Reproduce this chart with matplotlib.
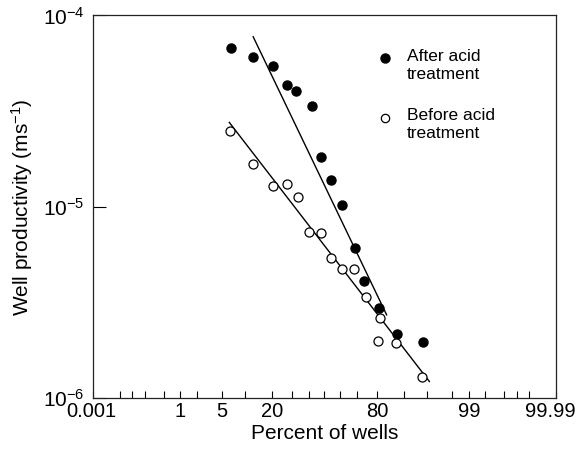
import numpy as np
import matplotlib
matplotlib.use("Agg")
import matplotlib.pyplot as plt
import matplotlib.transforms as mtransforms
from statistics import NormalDist

plt.rcParams['font.family'] = ['Liberation Sans', 'DejaVu Sans']
plt.rcParams['mathtext.default'] = 'regular'

# Data (percent of wells, productivity in m/s)
after_pct = [6.65, 12.4, 20.6, 27.2, 32.2, 41.8, 48.0, 54.2, 61.3, 68.8, 73.6, 80.8, 87.7, 94.3]
after_val = [6.78e-5, 6.05e-5, 5.47e-5, 4.32e-5, 4.05e-5, 3.38e-5, 1.81e-5, 1.38e-5, 1.02e-5,
             6.08e-6, 4.1e-6, 2.96e-6, 2.16e-6, 1.97e-6]
before_pct = [6.45, 12.4, 20.3, 27.2, 33.5, 40.2, 48.0, 54.2, 61.1, 68.05, 74.6, 81.2, 80.4, 87.6, 94.1]
before_val = [2.48e-5, 1.68e-5, 1.29e-5, 1.32e-5, 1.13e-5, 7.37e-6, 7.31e-6, 5.39e-6, 4.74e-6,
              4.74e-6, 3.37e-6, 2.62e-6, 1.99e-6, 1.93e-6, 1.28e-6]
after_fit_pct = [12.6, 84.1]
after_fit_val = [7.74e-5, 2.72e-6]
before_fit_pct = [6.31, 95.4]
before_fit_val = [2.76e-5, 1.22e-6]

major_ticks = [0.01, 1, 5, 20, 80, 99, 99.99]
major_labels = ['0.001', '1', '5', '20', '80', '99', '99.99']
minor_ticks = [0.05, 0.1, 0.2, 0.5, 2, 10, 30, 40, 50, 60, 70, 90, 95, 98, 99.5, 99.8, 99.9, 99.95]

_nd = NormalDist()
_inv = np.vectorize(lambda p: _nd.inv_cdf(min(max(p / 100.0, 1e-9), 1 - 1e-9)))
_cdf = np.vectorize(lambda z: _nd.cdf(z) * 100.0)

def fwd(p):
    return _inv(np.asarray(p, dtype=float))

def inv(z):
    return _cdf(np.asarray(z, dtype=float))

fig = plt.figure(figsize=(5.8, 4.55), dpi=100)
ax = fig.add_axes([0.1603, 0.1253, 0.7983, 0.8407])
ax.set_xscale('function', functions=(fwd, inv))
ax.set_yscale('log')
ax.set_xlim(0.01, 99.99)
ax.set_ylim(1e-6, 1e-4)

ax.plot(after_fit_pct, after_fit_val, color='black', lw=1.0)
ax.plot(before_fit_pct, before_fit_val, color='black', lw=1.0)
ax.plot(after_pct, after_val, 'o', color='black', ms=6.5, zorder=3)
ax.plot(before_pct, before_val, 'o', mfc='white', mec='black', mew=0.9, ms=6.5, zorder=3)

ax.set_xticks(major_ticks)
ax.set_xticklabels(major_labels)
ax.set_xticks(minor_ticks, minor=True)
ax.set_yticks([1e-6, 1e-5, 1e-4])
ax.set_yticklabels(['$10^{-6}$', '$10^{-5}$', '$10^{-4}$'])
ax.yaxis.set_minor_locator(matplotlib.ticker.NullLocator())

ax.tick_params(axis='x', which='both', direction='in', length=5, width=0.8, labelsize=14.5, pad=3)
ax.tick_params(axis='y', which='major', direction='in', length=9, width=0.8, labelsize=15, pad=6)
for s in ax.spines.values():
    s.set_linewidth(0.9)
    s.set_color('#222222')

# shift end labels slightly inward like the original
xlabels = ax.get_xticklabels()
xlabels[-1].set_transform(xlabels[-1].get_transform() +
                          mtransforms.ScaledTranslation(-4 / 72, 0, fig.dpi_scale_trans))
xlabels[0].set_transform(xlabels[0].get_transform() +
                         mtransforms.ScaledTranslation(-1.5 / 72, 0, fig.dpi_scale_trans))

ax.set_xlabel('Percent of wells', fontsize=15, labelpad=2)
ax.set_ylabel('Well productivity (ms$^{-1}$)', fontsize=15, labelpad=6)

# Legend (manual, as in original)
ax.plot([0.631], [0.890], 'o', color='black', ms=6.5, transform=ax.transAxes, clip_on=False)
ax.text(0.678, 0.913, 'After acid\ntreatment', transform=ax.transAxes, fontsize=12.5,
        va='top', ha='left', linespacing=1.25)
ax.plot([0.631], [0.733], 'o', mfc='white', mec='black', mew=0.9, ms=6, transform=ax.transAxes, clip_on=False)
ax.text(0.678, 0.757, 'Before acid\ntreatment', transform=ax.transAxes, fontsize=12.5,
        va='top', ha='left', linespacing=1.25)

fig.savefig('out.png', dpi=100)
